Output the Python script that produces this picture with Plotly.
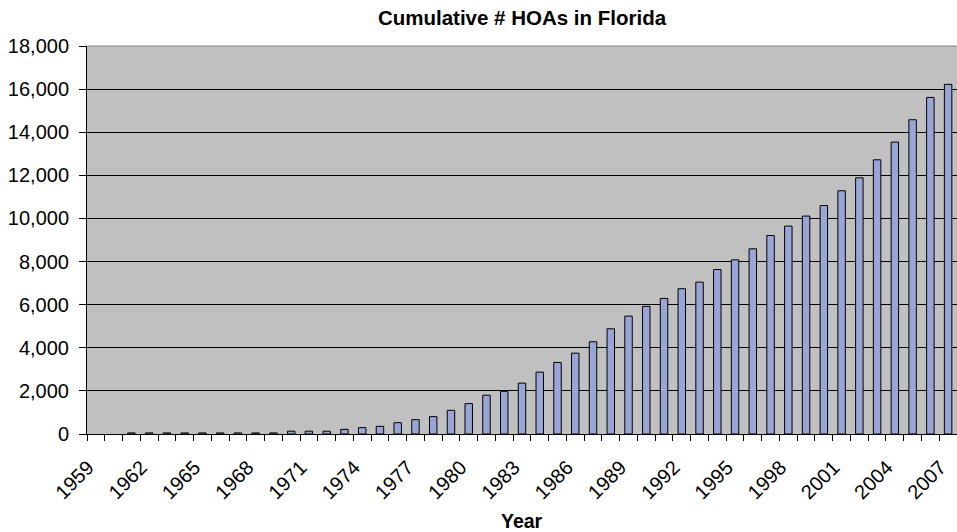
import plotly.graph_objects as go

# Year categories and cumulative HOA counts
years = list(range(1959, 2008))
hoa_counts = [
    0, 0, 50, 50, 50, 50, 50, 50, 50, 50,          # 1959-1968
    50, 130, 130, 130, 215, 295, 355, 525, 665, 805,  # 1969-1978
    1100, 1410, 1800, 1980, 2360, 2870, 3320, 3750, 4280, 4880,  # 1979-1988
    5470, 5920, 6290, 6740, 7045, 7630, 8080, 8590, 9210, 9645,  # 1989-1998
    10110, 10600, 11285, 11885, 12720, 13540, 14580, 15615, 16220,  # 1999-2007
]
label_years = [1959, 1962, 1965, 1968, 1971, 1974, 1977, 1980, 1983,
               1986, 1989, 1992, 1995, 1998, 2001, 2004, 2007]
y_ticks = [0, 2000, 4000, 6000, 8000, 10000, 12000, 14000, 16000, 18000]

FONT = "Liberation Sans, Arial, sans-serif"

# years with no HOAs get no outline either
outline_widths = [1 if v > 0 else 0 for v in hoa_counts]

# rotated labels sit a little further from their tick, like Excel's
PAD = "\u00a0\u00a0"

fig = go.Figure(
    go.Bar(
        x=years,
        y=hoa_counts,
        width=0.42,
        marker=dict(color="#99A5D6",
                    line=dict(color="#000000", width=outline_widths)),
        hoverinfo="x+y",
    )
)

fig.update_layout(
    width=957,
    height=532,
    margin=dict(l=87, r=0, t=46, b=98),
    paper_bgcolor="#FFFFFF",
    plot_bgcolor="#C0C0C0",
    font=dict(family=FONT, size=20, color="#000000"),
    showlegend=False,
    title=dict(
        text="<b>Cumulative # HOAs in Florida</b>",
        x=(87 + 957) / 2 / 957,
        xanchor="center",
        xref="container",
        y=1 - 18 / 532,
        yref="container",
        yanchor="middle",
        font=dict(family=FONT, size=20.5, color="#000000"),
    ),
    xaxis=dict(
        range=[1958.5, 2007.5],
        tickmode="array",
        tickvals=label_years,
        ticktext=[str(y) + PAD for y in label_years],
        tickangle=-45,
        ticks="outside",
        ticklen=5,
        tickcolor="rgba(0,0,0,0)",
        ticklabeloverflow="allow",
        showgrid=False,
        zeroline=False,
        showline=True,
        linecolor="#000000",
        linewidth=1,
        tickfont=dict(family=FONT, size=20),
        minor=dict(
            tickmode="linear",
            tick0=1958.5,
            dtick=1,
            ticks="outside",
            ticklen=6,
            tickcolor="#000000",
            showgrid=False,
        ),
        fixedrange=True,
    ),
    yaxis=dict(
        range=[0, 18000],
        tickmode="array",
        tickvals=y_ticks,
        tickformat=",d",
        ticks="outside",
        ticklen=7,
        tickcolor="#000000",
        ticklabelstandoff=6,
        showgrid=True,
        gridcolor="#000000",
        gridwidth=1,
        zeroline=False,
        showline=True,
        linecolor="#000000",
        linewidth=1,
        tickfont=dict(family=FONT, size=20),
        fixedrange=True,
    ),
    annotations=[
        dict(
            text="<b>Year</b>",
            x=0.5,
            xref="paper",
            y=-(520 - 433.5) / 388,
            yref="paper",
            xanchor="center",
            yanchor="middle",
            showarrow=False,
            font=dict(family=FONT, size=19.5, color="#000000"),
        )
    ],
    shapes=[
        # grey plot-area border along the top edge
        dict(type="line", xref="paper", yref="paper", x0=0, x1=1, y0=1, y1=1,
             line=dict(color="#808080", width=1)),
    ],
)

fig.write_html("out.html")
